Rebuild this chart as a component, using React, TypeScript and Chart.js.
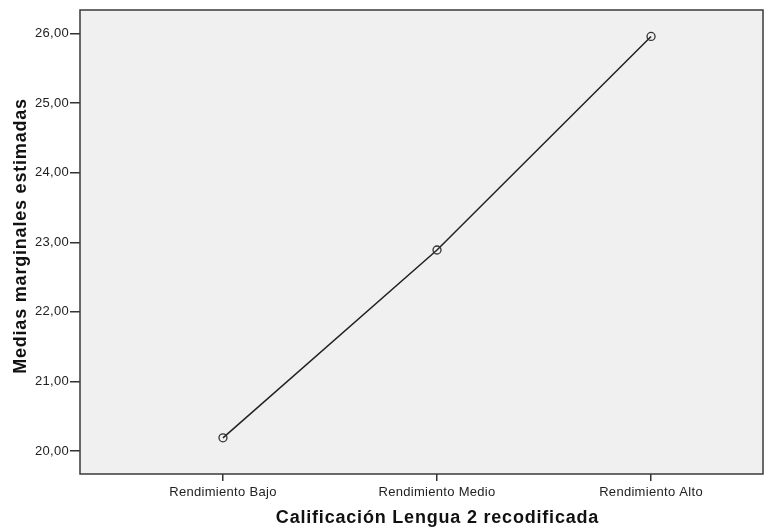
import React, { useEffect, useRef } from "react";
import { Chart, registerables } from "chart.js";

Chart.register(...registerables);

const categories = ["Rendimiento Bajo", "Rendimiento Medio", "Rendimiento Alto"];
const medias = [20.19, 22.89, 25.96];
const yTicks = [20, 21, 22, 23, 24, 25, 26];
const xTitle = "Calificación Lengua 2 recodificada";
const yTitle = "Medias marginales estimadas";

const FONT = "'Liberation Sans', Arial, sans-serif";

const plotDecor = {
  id: "plotDecor",
  beforeDraw(chart: any) {
    const { ctx, chartArea: a } = chart;
    ctx.fillStyle = "#f0f0f0";
    ctx.fillRect(a.left, a.top, a.right - a.left, a.bottom - a.top);
    (ctx as any).letterSpacing = "0.3px";
  },
  afterDraw(chart: any) {
    const { ctx, chartArea: a } = chart;
    ctx.save();
    ctx.strokeStyle = "#3a3a3a";
    ctx.lineWidth = 1.5;
    ctx.strokeRect(a.left, a.top, a.right - a.left, a.bottom - a.top);

    (ctx as any).letterSpacing = "0.8px";
    ctx.fillStyle = "#111";
    ctx.font = `bold 18px ${FONT}`;
    ctx.textAlign = "center";
    ctx.textBaseline = "alphabetic";
    ctx.fillText(xTitle, (a.left + a.right) / 2 + 16, chart.height - 6);

    ctx.translate(26, (a.top + a.bottom) / 2 - 6);
    ctx.rotate(-Math.PI / 2);
    ctx.fillText(yTitle, 0, 0);
    ctx.restore();
  },
};

export default function App() {
  const ref = useRef<HTMLCanvasElement>(null);
  useEffect(() => {
    if (!ref.current) return;
    const chart = new Chart(ref.current, {
      type: "line",
      data: {
        datasets: [
          {
            data: medias.map((v, i) => ({ x: i, y: v })),
            borderColor: "#222222",
            borderWidth: 1.5,
            pointRadius: 4,
            pointBorderWidth: 1.3,
            pointBackgroundColor: "rgba(0,0,0,0)",
            pointBorderColor: "#333333",
            tension: 0,
          },
        ],
      },
      options: {
        animation: false,
        responsive: true,
        maintainAspectRatio: false,
        layout: { padding: { top: 10, right: 17, left: 0, bottom: 0 } },
        plugins: { legend: { display: false }, tooltip: { enabled: false } },
        scales: {
          x: {
            type: "linear",
            min: -0.668,
            max: 2.523,
            afterBuildTicks: (s: any) => {
              s.ticks = categories.map((_, i) => ({ value: i }));
            },
            afterFit: (s: any) => {
              s.height = 55;
            },
            ticks: {
              callback: (v: any) => categories[v] ?? "",
              font: { family: FONT, size: 13 },
              color: "#222",
              padding: 4,
              maxRotation: 0,
            },
            grid: {
              drawOnChartArea: false,
              drawTicks: true,
              tickLength: 7,
              color: "#333",
              lineWidth: 1.5,
            },
            border: { display: false },
            title: { display: false },
          },
          y: {
            min: 19.67,
            max: 26.34,
            afterBuildTicks: (s: any) => {
              s.ticks = yTicks.map((v) => ({ value: v }));
            },
            afterFit: (s: any) => {
              s.width = 80;
            },
            ticks: {
              callback: (v: any) => Number(v).toFixed(2).replace(".", ","),
              font: { family: FONT, size: 13 },
              color: "#222",
              padding: 1,
            },
            grid: {
              drawOnChartArea: false,
              drawTicks: true,
              tickLength: 10,
              color: "#333",
              lineWidth: 1.5,
            },
            border: { display: false },
            title: { display: false },
          },
        },
      },
      plugins: [plotDecor],
    });
    return () => chart.destroy();
  }, []);
  return (
    <div style={{ position: "fixed", left: 0, top: 0, width: 780, height: 529, background: "#fff" }}>
      <canvas ref={ref} />
    </div>
  );
}
